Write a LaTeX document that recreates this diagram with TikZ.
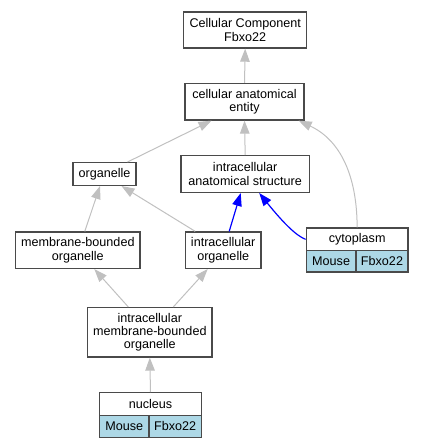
\documentclass[tikz,border=0pt]{standalone}
\usepackage{fontspec}
\setmainfont{Liberation Sans}
\usetikzlibrary{arrows.meta,positioning,calc}
\definecolor{edgegray}{HTML}{C0C0C0}
\definecolor{boxline}{HTML}{4A4A4A}
\definecolor{cellblue}{HTML}{ADD8E6}
\tikzset{
  termbox/.style={draw=boxline,line width=1.4pt,fill=white,inner sep=0pt,align=center,font=\fontsize{12.6}{13.4}\selectfont},
  cellbox/.style={termbox,fill=cellblue},
  isa/.style={draw=edgegray,line width=1pt,-{Triangle[length=13pt,width=9.5pt,fill=edgegray]}},
  partof/.style={draw=blue,line width=1.2pt,-{Triangle[length=13pt,width=9.5pt,fill=blue]}}
}
\begin{document}
\begin{tikzpicture}[x=1pt,y=-1pt]
\useasboundingbox (0,0) rectangle (424,448);
% nodes
\node[termbox,minimum width=123pt,minimum height=36pt] (cc) at (245.2,30) {Cellular Component\\Fbxo22};
\node[termbox,minimum width=119pt,minimum height=36.3pt] (cae) at (244.5,101.8) {cellular anatomical\\entity};
\node[termbox,minimum width=63pt,minimum height=22.6pt] (org) at (104.5,174) {organelle};
\node[termbox,minimum width=128.3pt,minimum height=36.6pt] (ias) at (245.2,174) {intracellular\\anatomical structure};
\node[termbox,minimum width=124.3pt,minimum height=36.3pt] (mbo) at (77.8,250.2) {membrane-bounded\\organelle};
\node[termbox,minimum width=75.7pt,minimum height=36.3pt] (io) at (223.2,250.2) {intracellular\\organelle};
\node[termbox,minimum width=124.3pt,minimum height=49.3pt] (imbo) at (149.8,332.3) {intracellular\\membrane-bounded\\organelle};
% cytoplasm record
\node[termbox,minimum width=101.7pt,minimum height=22.7pt] (cyt) at (357.15,239.35) {cytoplasm};
\node[cellbox,minimum width=49.7pt,minimum height=21.3pt] (cytm) at (331.15,261.35) {Mouse};
\node[cellbox,minimum width=52pt,minimum height=21.3pt] (cytf) at (382,261.35) {Fbxo22};
% nucleus record
\node[termbox,minimum width=101.6pt,minimum height=22.6pt] (nuc) at (150.5,404) {nucleus};
\node[cellbox,minimum width=49.3pt,minimum height=22pt] (nucm) at (124.35,426.3) {Mouse};
\node[cellbox,minimum width=52.3pt,minimum height=22pt] (nucf) at (175.15,426.3) {Fbxo22};
% edges
\draw[isa] (cae.north) -- (cc.south);
\draw[isa] ([xshift=23pt]org.north) -- ([xshift=-33pt]cae.south);
\draw[isa] (ias.north) -- (cae.south);
\draw[isa] (cyt.north) .. controls (357,175) and (340,140) .. ([xshift=-6pt]cae.south east);
\draw[isa] ([xshift=7pt]mbo.north) -- ([xshift=-4.5pt]org.south);
\draw[isa] ([xshift=-28pt]io.north) -- ([xshift=17pt]org.south);
\draw[partof] ([xshift=6pt]io.north) -- ([xshift=-4.5pt]ias.south);
\draw[partof] (cyt.west) .. controls (297,236) and (285,225) .. ([xshift=14pt]ias.south);
\draw[isa] ([xshift=-21.5pt]imbo.north) -- ([xshift=16.5pt]mbo.south);
\draw[isa] ([xshift=23.5pt]imbo.north) -- ([xshift=-15.5pt]io.south);
\draw[isa] (nuc.north) -- (imbo.south);
\end{tikzpicture}
\end{document}
